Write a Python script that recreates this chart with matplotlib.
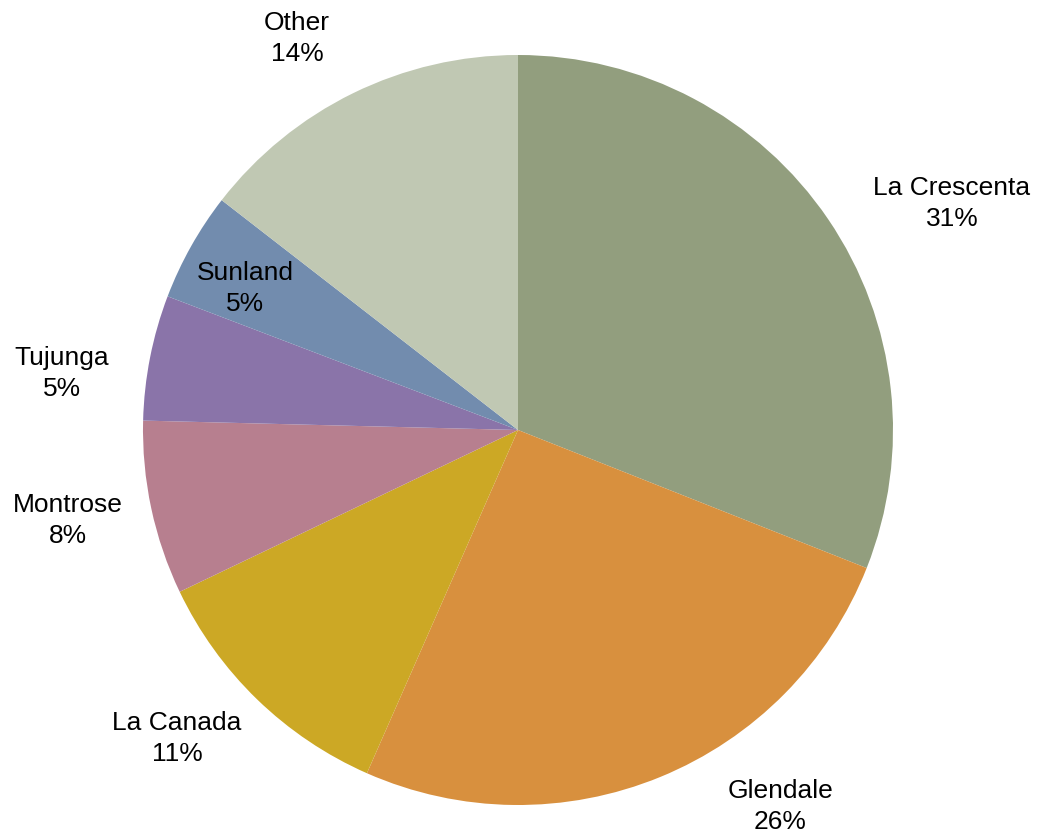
import matplotlib
matplotlib.use('Agg')
import matplotlib.pyplot as plt
import numpy as np

plt.rcParams['font.family'] = ['Liberation Sans', 'DejaVu Sans']

# data (share of responses, %)
places = ["La Crescenta", "Glendale", "La Canada", "Montrose", "Tujunga", "Sunland", "Other"]
shares = [31.0, 25.6, 11.3, 7.5, 5.4, 4.7, 14.5]
pct_labels = ["31%", "26%", "11%", "8%", "5%", "5%", "14%"]
colors = ["#929E7E", "#D8903E", "#CCA825", "#B77F8F", "#8A74A9", "#728CAE", "#C0C8B3"]

# label spots in pie units (radius = 1), copied from the original layout
label_xy = [(1.157, 0.613), (0.699, -0.995), (-0.909, -0.813), (-1.2, -0.232),
            (-1.216, 0.16), (-0.728, 0.387), (-0.589, 1.053)]

fig = plt.figure(figsize=(10.37, 8.33), dpi=100)
ax = fig.add_axes([0, 0, 1, 1])

wedges, _ = ax.pie(shares, colors=colors, startangle=90, counterclock=False,
                   radius=1.0, wedgeprops=dict(linewidth=0, edgecolor='none'))

for name, pct, (lx, ly) in zip(places, pct_labels, label_xy):
    ax.text(lx, ly - 0.009, name + "\n" + pct, ha='center', va='center',
            fontsize=19, linespacing=1.38, color='black')

ax.set_aspect('auto')
ax.set_xlim(-518 / 375, (1037 - 518) / 375)
ax.set_ylim(-(833 - 430) / 375, 430 / 375)
ax.axis('off')

fig.savefig('out.png', dpi=100)
